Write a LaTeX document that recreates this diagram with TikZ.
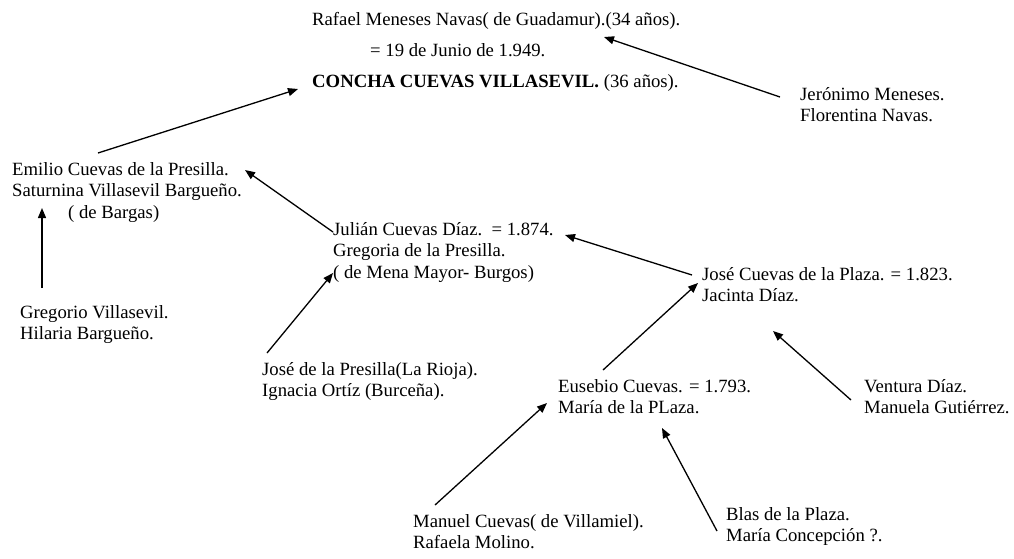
\documentclass[tikz,border=0pt]{standalone}
\usepackage{fontspec}
\setmainfont{Liberation Serif}
\usetikzlibrary{arrows.meta}

\begin{document}
\begin{tikzpicture}[x=1pt,y=-1pt,
		persona/.style={anchor=north west, inner sep=0pt, align=left, font=\fontsize{18.7}{21.5}\selectfont},
		flecha/.style={-{Triangle[length=10pt,width=8pt]}, line width=1.3pt}]
			\useasboundingbox (0,0) rectangle (1014,558);
			% top
			\node[persona] (rafael) at (312,12) {Rafael Meneses Navas( de Guadamur).(34 años).};
			\node[persona] (boda) at (370,43) {= 19 de Junio de 1.949.};
			\node[persona] (concha) at (312,74) {\textbf{CONCHA CUEVAS VILLASEVIL.} (36 años).};
			\node[persona] (jeronimo) at (800,87) {Jerónimo Meneses.\\Florentina Navas.};
			% left side
			\node[persona] (emilio) at (12,162) {Emilio Cuevas de la Presilla.\\Saturnina Villasevil Bargueño.\\\hspace*{56pt}( de Bargas)};
			\node[persona] (gregorio) at (20,305) {Gregorio Villasevil.\\Hilaria Bargueño.};
			\node[persona] (julian) at (333,222) {Julián Cuevas Díaz.\ \ = 1.874.\\Gregoria de la Presilla.\\( de Mena Mayor- Burgos)};
			\node[persona] (presilla) at (262,362) {José de la Presilla(La Rioja).\\Ignacia Ortíz (Burceña).};
			% right side
			\node[persona] (jose) at (702,267) {José Cuevas de la Plaza. = 1.823.\\Jacinta Díaz.};
			\node[persona] (ventura) at (864,379) {Ventura Díaz.\\Manuela Gutiérrez.};
			\node[persona] (eusebio) at (558,379) {Eusebio Cuevas. = 1.793.\\María de la PLaza.};
			\node[persona] (manuel) at (413,514) {Manuel Cuevas( de Villamiel).\\Rafaela Molino.};
			\node[persona] (blas) at (726,507) {Blas de la Plaza.\\María Concepción ?.};
			% arrow ends
			\coordinate (emilio-s) at (98,153);
			\coordinate (concha-e) at (298,89);
			\coordinate (jeronimo-s) at (780,97);
			\coordinate (rafael-e) at (604,37);
			\coordinate (julian-s) at (333,232);
			\coordinate (emilio-e) at (245,170);
			\coordinate (gregorio-s) at (42,288);
			\coordinate (emilio-e2) at (42,208);
			\coordinate (presilla-s) at (267,353);
			\coordinate (julian-e) at (333,273);
			\coordinate (jose-s) at (692,275);
			\coordinate (julian-e2) at (565,235);
			\coordinate (eusebio-s) at (603,370);
			\coordinate (jose-e) at (698,283);
			\coordinate (ventura-s) at (851,400);
			\coordinate (jose-e2) at (773,331);
			\coordinate (manuel-s) at (435,505);
			\coordinate (eusebio-e) at (547,403);
			\coordinate (blas-s) at (717,531);
			\coordinate (eusebio-e2) at (662,428);
			% draw arrows
			\draw[flecha] (emilio-s) -- (concha-e);
			\draw[flecha] (jeronimo-s) -- (rafael-e);
			\draw[flecha] (julian-s) -- (emilio-e);
			\draw[flecha] (gregorio-s) -- (emilio-e2);
			\draw[flecha] (presilla-s) -- (julian-e);
			\draw[flecha] (jose-s) -- (julian-e2);
			\draw[flecha] (eusebio-s) -- (jose-e);
			\draw[flecha] (ventura-s) -- (jose-e2);
			\draw[flecha] (manuel-s) -- (eusebio-e);
			\draw[flecha] (blas-s) -- (eusebio-e2);
		\end{tikzpicture}
\end{document}
